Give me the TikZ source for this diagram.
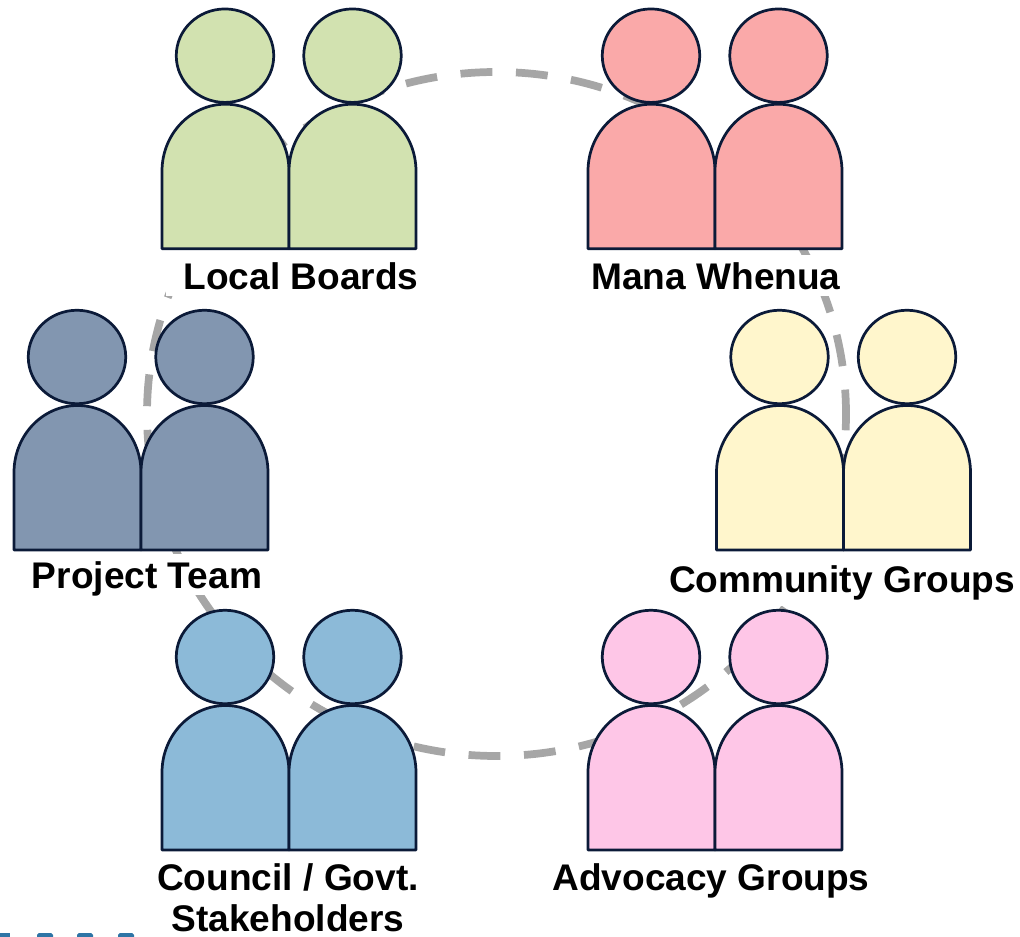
\documentclass[tikz,border=0pt]{standalone}
\usepackage{fontspec}
\setmainfont{Liberation Sans}
\usepackage{tikz}
\usetikzlibrary{shapes.geometric}

\definecolor{outlinecol}{HTML}{0B1A38}
\definecolor{ringcol}{HTML}{A6A6A6}
\definecolor{greencol}{HTML}{D2E2B0}
\definecolor{redcol}{HTML}{FAA9A9}
\definecolor{yellowcol}{HTML}{FFF6CC}
\definecolor{pinkcol}{HTML}{FEC6E7}
\definecolor{bluecol}{HTML}{8CBAD8}
\definecolor{slatecol}{HTML}{8296B0}
\definecolor{tealcol}{HTML}{2E75A6}

% name, left edge, bottom edge, fill
\newcommand{\pair}[4]{
\node[head, fill=#4] (#1a) at (#2+63,#3+193) {};
\node[head, fill=#4] (#1b) at (#2+190.5,#3+193) {};
\draw[body, fill=#4] (#2,#3) -- ++(0,77.5) arc[start angle=180, end angle=0, x radius=63.5, y radius=67] -- ++(0,-77.5) -- cycle;
\draw[body, fill=#4] (#2+127,#3) -- ++(0,77.5) arc[start angle=180, end angle=0, x radius=63.5, y radius=67] -- ++(0,-77.5) -- cycle;
}

\begin{document}
\begin{tikzpicture}[x=0.02cm, y=0.02cm]
\tikzstyle{head} = [ellipse, draw=outlinecol, line width=1.55pt, minimum width=1.95cm, minimum height=1.87cm, inner sep=0pt]
\tikzstyle{body} = [draw=outlinecol, line width=1.55pt, line join=round]
\tikzstyle{ring} = [draw=ringcol, line width=4.4pt, dash pattern=on 18.14pt off 13.44pt, dash phase=4.25pt]
\tikzstyle{labeltext} = [fill=white, align=center, font=\fontsize{21.1}{23.5}\selectfont\bfseries]
\tikzstyle{label} = [labeltext, anchor=base, inner xsep=10pt, inner ysep=0pt, text height=19.5pt, text depth=3.6pt]

\useasboundingbox (0,0) rectangle (1020,936);

\draw[ring] (496.5,522) ellipse [x radius=349.5, y radius=342];

\node[label] (LB) at (301,646.5) {Local Boards};
\node[label] (MW) at (716,646.5) {Mana Whenua};
\node[label] (PT) at (147,347.5) {Project Team};
\node[label, text height=24pt, text depth=7.5pt] (CG) at (842,343.5) {Community Groups};
\node[label] (AG) at (711,45.5) {Advocacy Groups};
\node[labeltext, inner sep=1pt] (CS) at (288,38) {Council / Govt.\\Stakeholders};

\pair{LB}{162}{687.3}{greencol}
\pair{MW}{588}{687.3}{redcol}
\pair{PT}{14}{386}{slatecol}
\pair{CG}{716.5}{386}{yellowcol}
\pair{CS}{162}{86}{bluecol}
\pair{AG}{588}{86}{pinkcol}

\foreach \x in {37,77,118}
  \fill[tealcol, rounded corners=1pt] (\x,-3) rectangle (\x+16,3);
\fill[tealcol] (0,-3) rectangle (10,3);
\end{tikzpicture}
\end{document}
